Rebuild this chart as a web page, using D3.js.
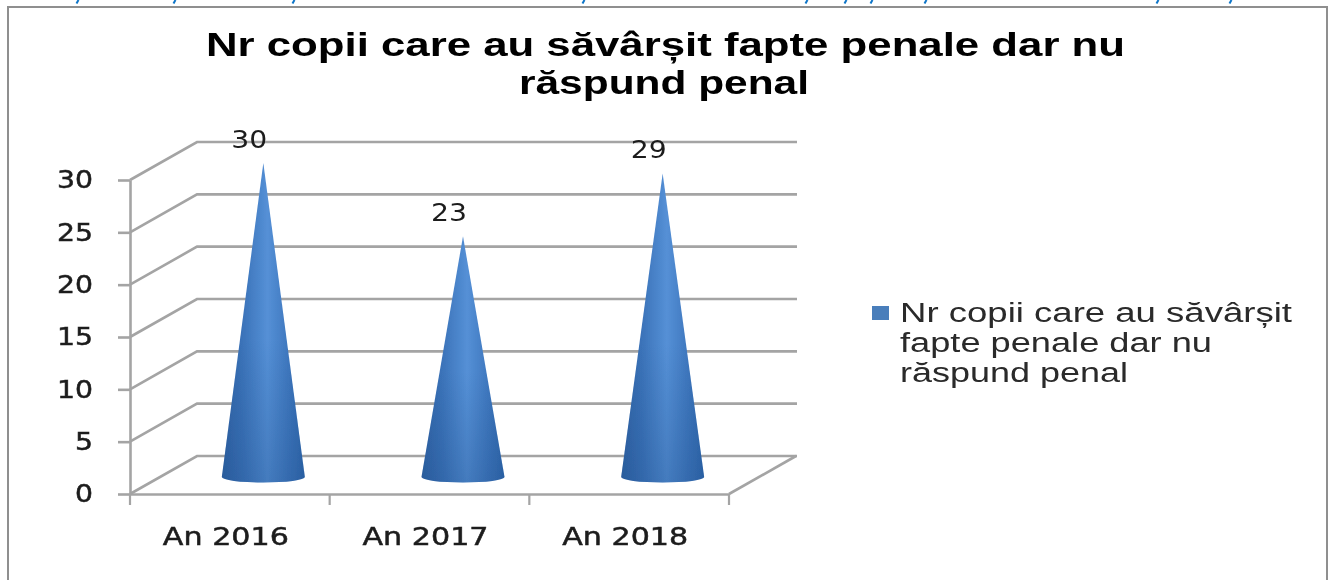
<!DOCTYPE html>
<html>

<head>
    <meta charset="utf-8">
    <script src="https://d3js.org/d3.v7.min.js"></script>
    <title>Nr copii care au săvârșit fapte penale dar nu răspund penal</title>
    <style>
        body { margin: 0; background: #fff; overflow: hidden; }
        .axis text { font-family: "DejaVu Sans", sans-serif; fill: #1c1c1c; stroke: #1c1c1c; stroke-width: 0.5px; }
    </style>
</head>

<body>
    <div id="chart"></div>
</body>

<script>
    const categories = ["An 2016", "An 2017", "An 2018"];
    const values = [30, 23, 29];
    const yTicks = [0, 5, 10, 15, 20, 25, 30];
    const titleLines = ["Nr copii care au săvârșit fapte penale dar nu", "răspund penal"];
    const legendLines = ["Nr copii care au săvârșit", "fapte penale dar nu", "răspund penal"];
    // bits of the cropped line of text above the chart, x only
    const croppedTails = [77, 174, 293, 583, 806, 845, 871, 925, 1157, 1230];

    const width = 1332, height = 580;
    const grey = "#a4a4a4";

    // oblique offset between the front of the 3d box and its back wall
    const depth = { x: 67, y: -38 };

    const svg = d3.select("#chart").append("svg")
        .attr("width", width)
        .attr("height", height)
        .style("display", "block");

    const defs = svg.append("defs");

    // the source is a soft, upscaled screenshot
    const soft = defs.append("filter").attr("id", "soft")
        .attr("filterUnits", "userSpaceOnUse")
        .attr("x", 0).attr("y", 0)
        .attr("width", width).attr("height", height);
    soft.append("feGaussianBlur").attr("stdDeviation", 0.6);

    const coneFill = defs.append("linearGradient").attr("id", "coneFill");
    [[0, "#2f63a5"], [0.25, "#3b73b9"], [0.55, "#5590d6"], [0.8, "#3f78bf"], [1, "#2f68ad"]].forEach(function (s) {
        coneFill.append("stop").attr("offset", s[0]).attr("stop-color", s[1]);
    });

    // cones get a little darker towards the floor
    const coneShade = defs.append("linearGradient").attr("id", "coneShade")
        .attr("x1", 0).attr("y1", 0).attr("x2", 0).attr("y2", 1);
    coneShade.append("stop").attr("offset", 0.55).attr("stop-color", "#1c4a86").attr("stop-opacity", 0);
    coneShade.append("stop").attr("offset", 1).attr("stop-color", "#1c4a86").attr("stop-opacity", 0.3);

    const root = svg.append("g").attr("filter", "url(#soft)");

    root.selectAll(".tail")
        .data(croppedTails)
        .enter()
        .append("line")
        .attr("class", "tail")
        .attr("x1", d => d + 1.5).attr("y1", 0)
        .attr("x2", d => d - 0.5).attr("y2", 3.5)
        .attr("stroke", "#0b74c8")
        .attr("stroke-width", 2);

    // chart frame, the bottom edge falls outside the picture
    root.append("rect")
        .attr("x", 8).attr("y", 7)
        .attr("width", 1319).attr("height", 620)
        .attr("fill", "#fff")
        .attr("stroke", "#8f8f8f")
        .attr("stroke-width", 2);

    const xScale = d3.scaleBand().domain(categories).range([130, 729]);
    const yScale = d3.scaleLinear().domain([0, 30]).range([494, 180]);

    // walls: every gridline runs front -> back -> along the back wall
    const gridLine = d3.line();
    root.selectAll(".grid")
        .data(yTicks)
        .enter()
        .append("path")
        .attr("class", "grid")
        .attr("fill", "none")
        .attr("stroke", grey)
        .attr("stroke-width", 2.6)
        .attr("d", d => gridLine([
            [130, yScale(d)],
            [130 + depth.x, yScale(d) + depth.y],
            [797, yScale(d) + depth.y]
        ]));

    // floor edge on the right side
    root.append("path")
        .attr("fill", "none")
        .attr("stroke", grey)
        .attr("stroke-width", 2.6)
        .attr("d", gridLine([[729, yScale(0)], [729 + depth.x, yScale(0) + depth.y]]));

    const yAxis = root.append("g")
        .attr("class", "axis")
        .attr("transform", "translate(130,0)")
        .call(d3.axisLeft(yScale).tickValues(yTicks).tickSize(12).tickSizeOuter(0).tickPadding(25));

    const xAxis = root.append("g")
        .attr("class", "axis")
        .attr("transform", "translate(0," + yScale(0) + ")")
        .call(d3.axisBottom(xScale).tickSize(0).tickPadding(34));

    xAxis.selectAll(".tick text")
        .attr("dx", -4)
        .attr("font-size", 24)
        .attr("textLength", 126)
        .attr("lengthAdjust", "spacingAndGlyphs");
    yAxis.selectAll(".tick text")
        .attr("font-size", 24)
        .attr("textLength", d => d < 10 ? 18 : 36)
        .attr("lengthAdjust", "spacingAndGlyphs");
    root.selectAll(".axis .domain, .axis line")
        .attr("stroke", grey)
        .attr("stroke-width", 2.6);

    // ticks of the category axis sit on the band edges
    root.selectAll(".xtick")
        .data([0, 1, 2, 3])
        .enter()
        .append("line")
        .attr("class", "xtick")
        .attr("x1", i => xScale.range()[0] + i * xScale.step())
        .attr("x2", i => xScale.range()[0] + i * xScale.step())
        .attr("y1", yScale(0))
        .attr("y2", yScale(0) + 11)
        .attr("stroke", grey)
        .attr("stroke-width", 2.2);

    // cones stand in the middle of the box depth
    const coneCx = d => xScale(d) + xScale.bandwidth() / 2 + depth.x / 2;
    const coneBase = yScale(0) + depth.y / 2 + 2;
    const coneTop = v => yScale(v) + depth.y / 2 + 2;
    const rx = 41.5, ry = 5.5;

    function conePath(d, i) {
        const cx = coneCx(d);
        return "M" + cx + "," + coneTop(values[i]) +
            "L" + (cx + rx) + "," + coneBase +
            "A" + rx + "," + ry + " 0 0 1 " + (cx - rx) + "," + coneBase + "Z";
    }

    root.selectAll(".cone")
        .data(categories)
        .enter()
        .append("path")
        .attr("class", "cone")
        .attr("fill", "url(#coneFill)")
        .attr("d", conePath);

    root.selectAll(".cone-shade")
        .data(categories)
        .enter()
        .append("path")
        .attr("class", "cone-shade")
        .attr("fill", "url(#coneShade)")
        .attr("d", conePath);

    root.selectAll(".value")
        .data(categories)
        .enter()
        .append("text")
        .attr("class", "value")
        .attr("x", d => coneCx(d) - 14)
        .attr("y", (d, i) => coneTop(values[i]) - 15)
        .attr("text-anchor", "middle")
        .attr("font-family", "DejaVu Sans, sans-serif")
        .attr("font-size", 24)
        .attr("textLength", 36)
        .attr("lengthAdjust", "spacingAndGlyphs")
        .attr("fill", "#1c1c1c")
        .text((d, i) => values[i]);

    // title, stretched like the source picture
    const titleLayout = [
        { x: 206, y: 56, w: 919 },
        { x: 519, y: 94, w: 290 }
    ];
    root.selectAll(".title")
        .data(titleLines)
        .enter()
        .append("text")
        .attr("class", "title")
        .attr("x", (d, i) => titleLayout[i].x)
        .attr("y", (d, i) => titleLayout[i].y)
        .attr("textLength", (d, i) => titleLayout[i].w)
        .attr("lengthAdjust", "spacingAndGlyphs")
        .attr("font-family", "Liberation Sans, sans-serif")
        .attr("font-weight", "bold")
        .attr("font-size", 34)
        .attr("fill", "#000")
        .text(d => d);

    // legend
    root.append("rect")
        .attr("x", 872).attr("y", 306)
        .attr("width", 17).attr("height", 14)
        .attr("fill", "#4a7ebb");

    const legendLayout = [
        { y: 322, w: 392 },
        { y: 352, w: 312 },
        { y: 382, w: 228 }
    ];
    root.selectAll(".legend")
        .data(legendLines)
        .enter()
        .append("text")
        .attr("class", "legend")
        .attr("x", 900)
        .attr("y", (d, i) => legendLayout[i].y)
        .attr("textLength", (d, i) => legendLayout[i].w)
        .attr("lengthAdjust", "spacingAndGlyphs")
        .attr("font-family", "Liberation Sans, sans-serif")
        .attr("font-size", 27)
        .attr("fill", "#2a2a2a")
        .text(d => d);
</script>

</html>
